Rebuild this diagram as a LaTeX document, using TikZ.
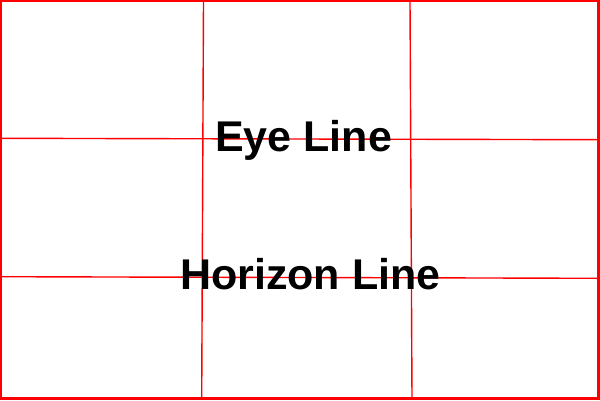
\documentclass[tikz,border=0pt]{standalone}
\usepackage{fontspec}
\setmainfont{Liberation Sans}
\begin{document}
\begin{tikzpicture}[x=1pt,y=-1pt,
  gridline/.style={draw=red, line width=1.4pt},
  frameline/.style={draw=red, line width=2.4pt},
  label/.style={font=\fontsize{43}{43}\selectfont\bfseries, text=black, anchor=base west, inner sep=0pt}]
\useasboundingbox[fill=white] (0,0) rectangle (600,400);
\coordinate (tl) at (1.2,1.2);
\coordinate (br) at (598.5,398.3);
\draw[frameline] (tl) rectangle (br);
\coordinate (h1a) at (1,138.3); \coordinate (h1b) at (599,139.7);
\coordinate (h2a) at (1,276.7); \coordinate (h2b) at (599,278.3);
\coordinate (v1a) at (203.5,1); \coordinate (v1b) at (201.7,398);
\coordinate (v2a) at (410,1); \coordinate (v2b) at (412,398);
\draw[gridline] (h1a) -- (h1b);
\draw[gridline] (h2a) -- (h2b);
\draw[gridline] (v1a) -- (v1b);
\draw[gridline] (v2a) -- (v2b);
\node[label] (eye) at (215,151.7) {Eye Line};
\node[label] (hor) at (180,289) {Horizon Line};
\end{tikzpicture}
\end{document}
